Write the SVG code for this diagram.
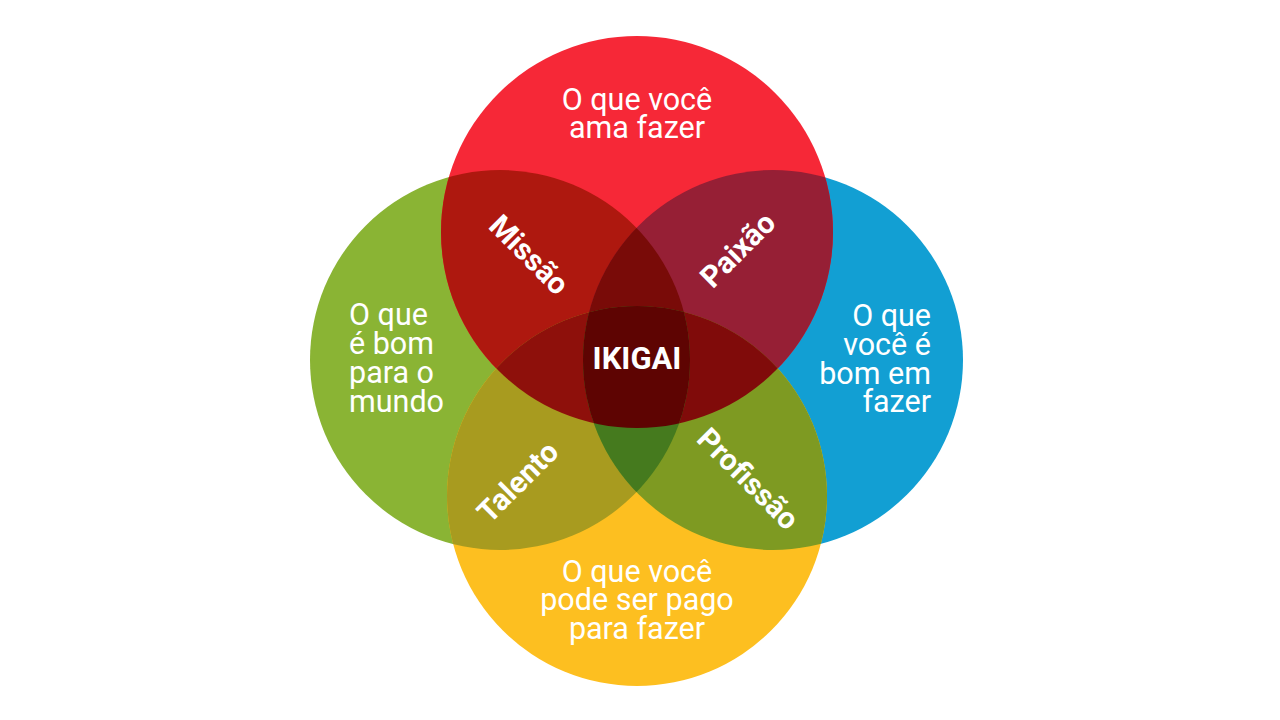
<svg xmlns="http://www.w3.org/2000/svg" width="1280" height="720" viewBox="0 0 1280 720">
  <style>
    .lbl { font-family: Roboto, "Liberation Sans", sans-serif; font-size: 30.5px; fill: #FFFFFF; }
    .bold { font-family: Roboto, "Liberation Sans", sans-serif; font-weight: bold; font-size: 30px; fill: #FFFFFF; text-anchor: middle; }
    .mid { text-anchor: middle; }
    .end { text-anchor: end; }
  </style>
  <defs>
    <clipPath id="cR"><circle cx="637" cy="232" r="196"/></clipPath>
    <clipPath id="cG"><circle cx="500" cy="360" r="190"/></clipPath>
    <clipPath id="cB"><circle cx="773" cy="360" r="190"/></clipPath>
    <clipPath id="cY"><circle cx="637" cy="496" r="190"/></clipPath>
  </defs>
  <rect width="1280" height="720" fill="#FFFFFF"/>

  <g id="circles">
    <circle id="green-circle" cx="500" cy="360" r="190" fill="#8AB434"/>
    <circle id="blue-circle" cx="773" cy="360" r="190" fill="#129FD3"/>
    <circle id="red-circle" cx="637" cy="232" r="196" fill="#F62837"/>
    <circle id="yellow-circle" cx="637" cy="496" r="190" fill="#FDBF20"/>
  </g>

  <g id="overlaps">
    <circle id="missao-area" cx="637" cy="232" r="196" fill="#AE180F" clip-path="url(#cG)"/>
    <circle id="paixao-area" cx="637" cy="232" r="196" fill="#961F35" clip-path="url(#cB)"/>
    <circle id="talento-area" cx="637" cy="496" r="190" fill="#A89B1F" clip-path="url(#cG)"/>
    <circle id="profissao-area" cx="637" cy="496" r="190" fill="#7E9A22" clip-path="url(#cB)"/>
    <g clip-path="url(#cB)"><circle cx="637" cy="232" r="196" fill="#790B08" clip-path="url(#cG)"/></g>
    <g clip-path="url(#cY)"><circle cx="637" cy="232" r="196" fill="#8E100B" clip-path="url(#cG)"/></g>
    <g clip-path="url(#cY)"><circle cx="637" cy="232" r="196" fill="#800B0A" clip-path="url(#cB)"/></g>
    <g clip-path="url(#cB)"><circle cx="637" cy="496" r="190" fill="#457A1E" clip-path="url(#cG)"/></g>
    <g clip-path="url(#cR)"><g clip-path="url(#cB)"><circle id="ikigai-area" cx="637" cy="496" r="190" fill="#5E0402" clip-path="url(#cG)"/></g></g>
  </g>

  <g id="node-love">
    <text class="lbl mid" x="637" y="110">O que você</text>
    <text class="lbl mid" x="637" y="138">ama fazer</text>
  </g>
  <g id="node-world">
    <text class="lbl" x="349" y="325">O que</text>
    <text class="lbl" x="349" y="354">é bom</text>
    <text class="lbl" x="349" y="383">para o</text>
    <text class="lbl" x="349" y="412">mundo</text>
  </g>
  <g id="node-good">
    <text class="lbl end" x="931" y="326">O que</text>
    <text class="lbl end" x="931" y="355">você é</text>
    <text class="lbl end" x="931" y="384">bom em</text>
    <text class="lbl end" x="931" y="412">fazer</text>
  </g>
  <g id="node-paid">
    <text class="lbl mid" x="637" y="582">O que você</text>
    <text class="lbl mid" x="637" y="610">pode ser pago</text>
    <text class="lbl mid" x="637" y="639">para fazer</text>
  </g>

  <g id="node-missao"><text class="bold" transform="translate(529,255) rotate(45)" y="10">Missão</text></g>
  <g id="node-paixao"><text class="bold" transform="translate(738,250) rotate(-45)" y="10">Paixão</text></g>
  <g id="node-talento"><text class="bold" transform="translate(518,482) rotate(-45)" y="10">Talento</text></g>
  <g id="node-profissao"><text class="bold" transform="translate(748,479) rotate(45)" y="10">Profissão</text></g>
  <g id="node-ikigai"><text class="bold" x="637" y="369" style="font-size:31px">IKIGAI</text></g>
</svg>
